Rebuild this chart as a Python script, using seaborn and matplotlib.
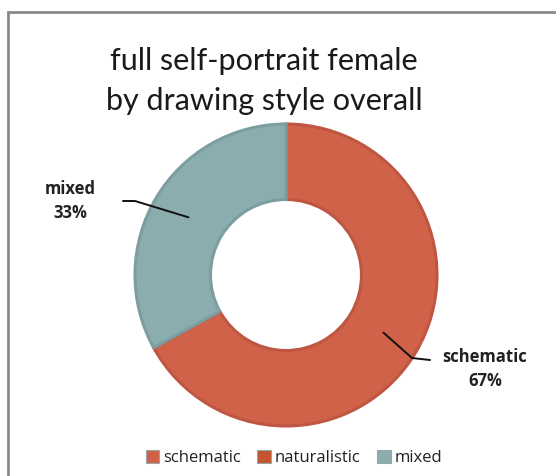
import numpy as np
import matplotlib
matplotlib.use("Agg")
import matplotlib.pyplot as plt
from matplotlib.patches import Patch, Rectangle
import seaborn as sns

# Data
categories = ["schematic", "naturalistic", "mixed"]
shares = [67, 0, 33]
slice_colors = ["#D0624A", "#C4552E", "#8BADB0"]
edge_colors = ["#BF5642", "#B24C2A", "#7C9EA1"]

sns.set_theme(style="white")
plt.rcParams["font.family"] = ["Lato", "DejaVu Sans"]

W, H = 556, 476
fig = plt.figure(figsize=(W / 100, H / 100), dpi=100)
ax = fig.add_axes([0, 0, 1, 1])

# pixel geometry of the ring
cx, cy, R = 286, 275, 151
hole = 0.50

wedges, _ = ax.pie(shares, colors=slice_colors, startangle=90, counterclock=False,
                   radius=1, wedgeprops=dict(width=1 - hole, linewidth=2.2))
for w, ec in zip(wedges, edge_colors):
    w.set_edgecolor(ec)
ax.set_xlim(-cx / R, (W - cx) / R)
ax.set_ylim(-(H - cy) / R, cy / R)
ax.set_aspect("auto")
ax.axis("off")

# Outer frame
fig.patches.append(Rectangle((8 / W, -0.05), 1.2, 1.05 - 12 / H, transform=fig.transFigure,
                             fill=False, edgecolor="#8a8a8a", linewidth=2))

fig.text(264 / W, 1 - 81 / H, "full self-portrait female\nby drawing style overall",
         ha="center", va="center", fontsize=22, color="#1a1a1a", linespacing=1.5)

# Data labels with leader lines
total = sum(shares)
label_pos = {"schematic": (485, 369), "mixed": (70, 201)}
angle = 90.0
for cat, val in zip(categories, shares):
    sweep = 360.0 * val / total
    mid = np.deg2rad(angle - sweep / 2)
    angle -= sweep
    if val == 0:
        continue
    lx, ly = label_pos[cat]
    tx, ty = (lx - cx) / R, (cy - ly) / R
    ax.text(tx, ty, f"{cat}\n{val}%", ha="center", va="center", fontsize=12,
            fontweight="bold", color="#222222", linespacing=1.5,
            family=["Open Sans", "DejaVu Sans"])
    r0 = 0.75
    px, py = r0 * np.cos(mid), r0 * np.sin(mid)
    if cat == "schematic":
        kx, ky = (412 - cx) / R, (cy - 358) / R
        ex, ey = (430 - cx) / R, (cy - 360) / R
    else:
        kx, ky = (135 - cx) / R, (cy - 201) / R
        ex, ey = (123 - cx) / R, (cy - 201) / R
    ax.plot([px, kx, ex], [py, ky, ey], color="#111111", linewidth=1.4,
            solid_capstyle="round", clip_on=False)

handles = [Patch(facecolor=c, edgecolor="#9aa6a6", linewidth=0.8) for c in slice_colors]
fig.legend(handles, categories, loc="center", bbox_to_anchor=(294 / W, 1 - 458 / H),
           ncol=3, frameon=False, handlelength=0.8, handleheight=0.8,
           handletextpad=0.25, columnspacing=1.0,
           prop=dict(family=["Open Sans", "DejaVu Sans"], size=12))
for t in fig.legends[0].get_texts():
    t.set_color("#222222")

fig.savefig("out.png", dpi=100)
